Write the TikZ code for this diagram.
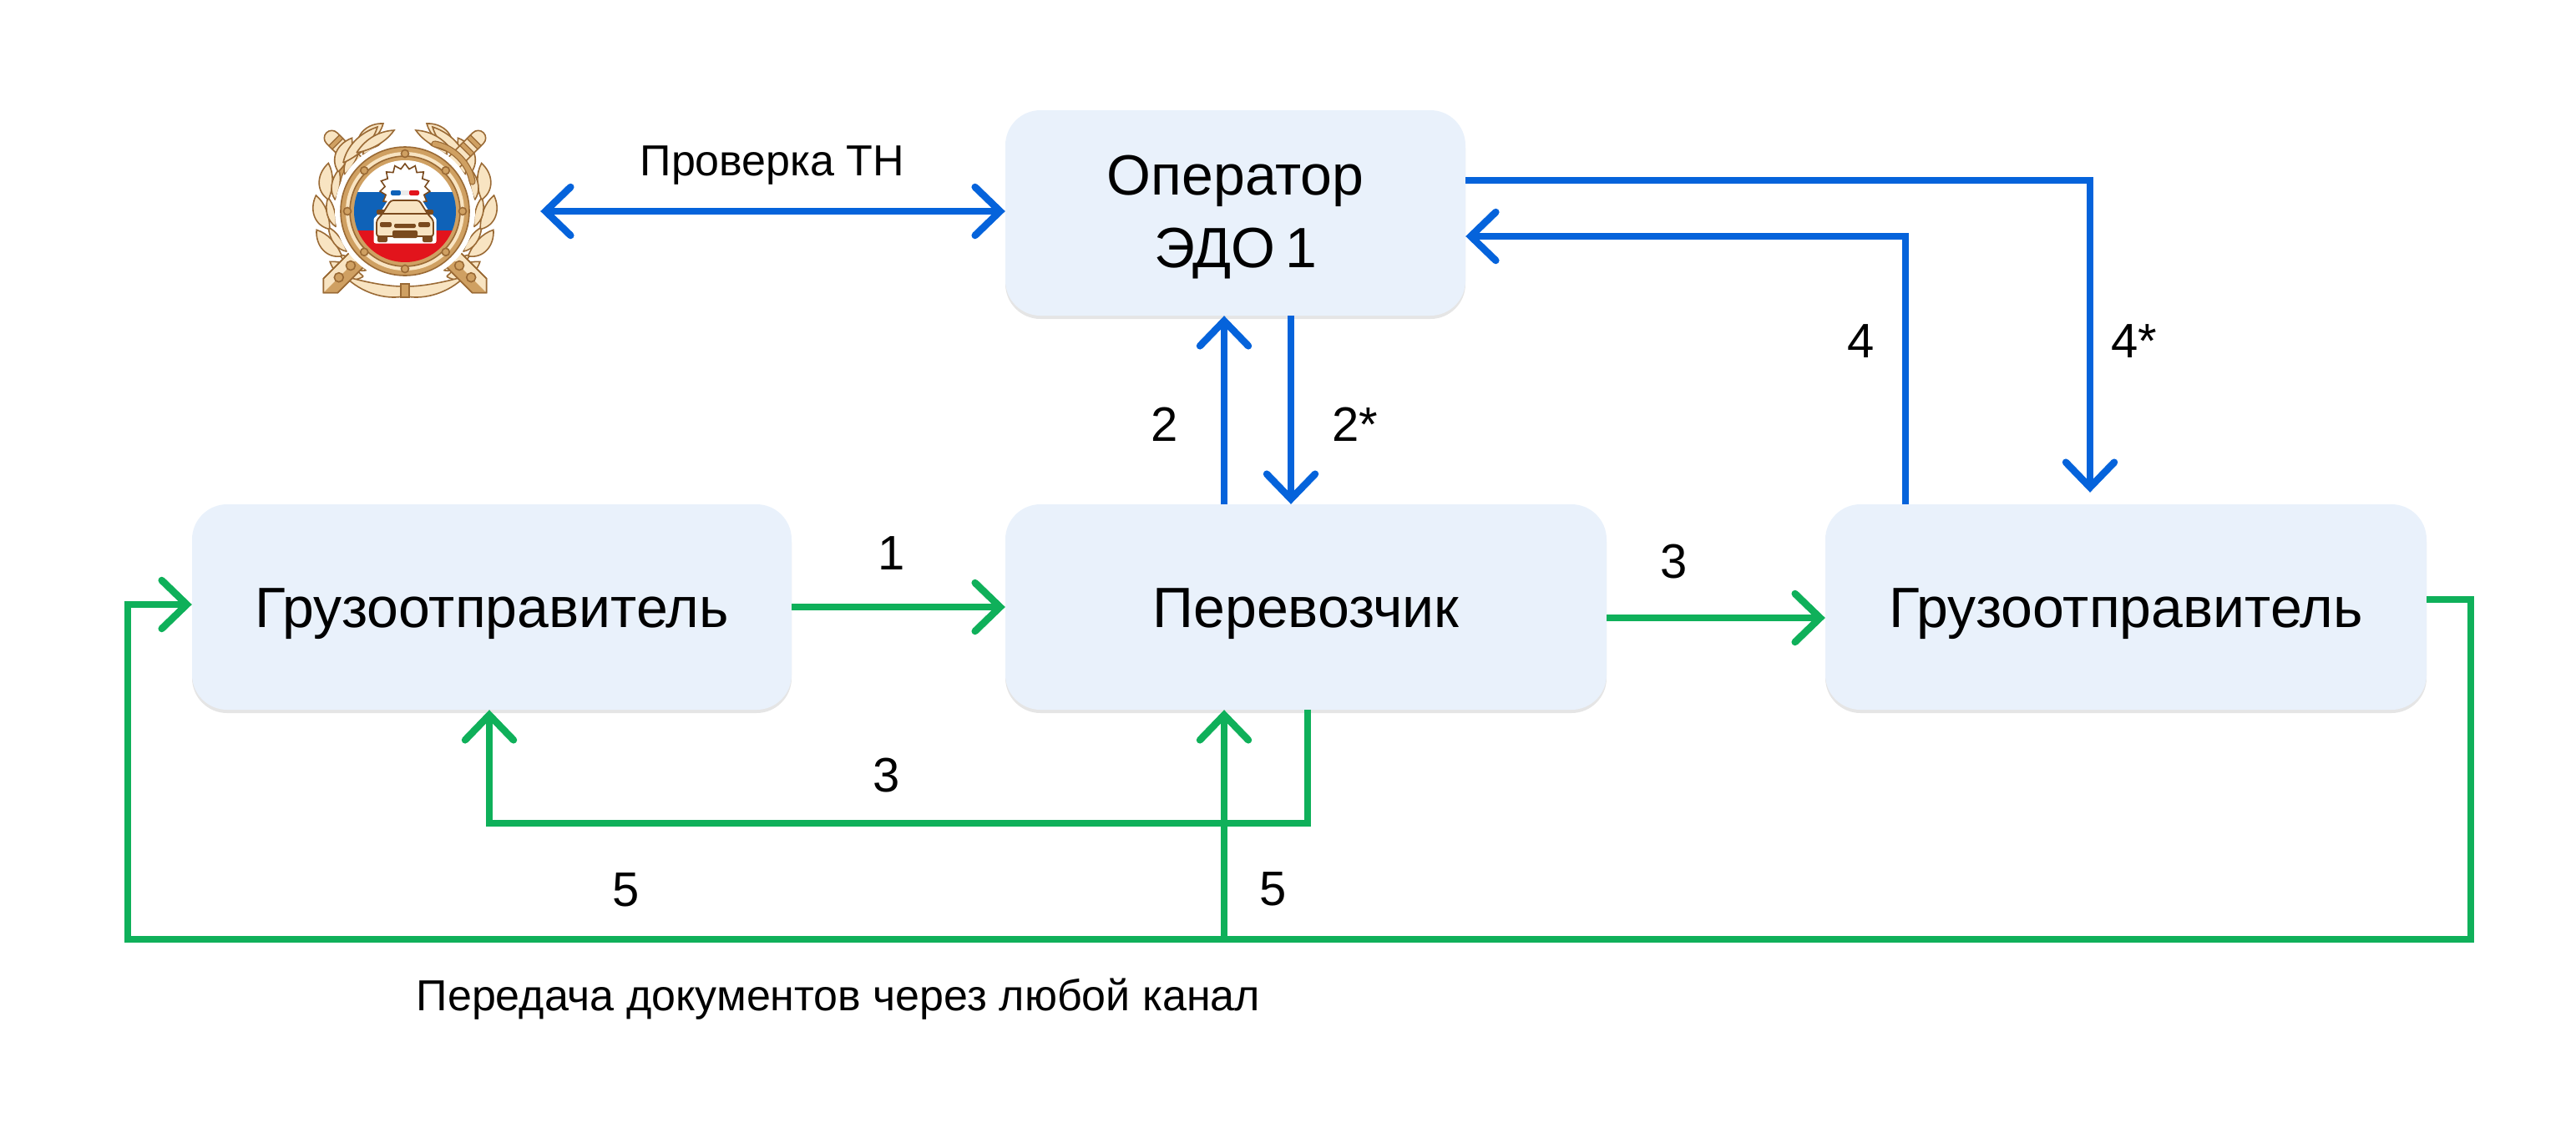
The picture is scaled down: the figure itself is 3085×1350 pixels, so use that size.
\documentclass[tikz,border=0pt]{standalone}
\usepackage{fontspec}
\setmainfont{Liberation Sans}
\usetikzlibrary{arrows.meta,calc,shadows,shapes.geometric}
\definecolor{boxfill}{HTML}{E9F1FB}
\definecolor{edoblue}{HTML}{0563DB}
\definecolor{docgreen}{HTML}{0FB05A}
\definecolor{tan}{HTML}{F8E4C2}
\definecolor{gold}{HTML}{CFA062}
\definecolor{bronze}{HTML}{9A6A35}
\definecolor{carbrown}{HTML}{7A4A1E}
\definecolor{flagblue}{HTML}{0F62B8}
\definecolor{flagred}{HTML}{E2141C}
\tikzset{
	barb/.tip={Straight Barb[length=30pt,width=58pt,line cap=round]},
	partybox/.style={rounded corners=42pt, fill=boxfill, inner sep=0pt, minimum height=246pt, font=\fontsize{68}{87}\selectfont, align=center, general shadow={fill=black, opacity=0.10, shadow yshift=-4pt}},
	oneline/.style={text height=62pt, text depth=14pt},
	numlabel/.style={inner sep=0pt, font=\fontsize{58}{70}\selectfont},
	notelabel/.style={inner sep=0pt, font=\fontsize{52}{62}\selectfont},
	bluearrow/.style={line width=8.5pt, draw=edoblue, -barb},
	greenarrow/.style={line width=8.5pt, draw=docgreen, -barb},
	badgeline/.style={draw=bronze, line width=1.6pt, fill=tan},
	badgegold/.style={draw=bronze, line width=1.6pt, fill=gold},
	carpart/.style={fill=carbrown, rounded corners=2pt},
}
\begin{document}
\begin{tikzpicture}[x=1pt, y=-1pt]
			%%%%% START %%%%%
			\useasboundingbox (0, 0) rectangle (3085, 1350);
			
			% parties
			\node[partybox, minimum width=551pt] (oper) at (1479.5, 255) {\rule{0pt}{58pt}Оператор\\ЭДО\,1};
			\node[partybox, oneline, minimum width=720pt] (perev) at (1564, 727) {Перевозчик};
			\node[partybox, oneline, minimum width=718pt] (shipL) at (589, 727) {Грузоотправитель};
			\node[partybox, oneline, minimum width=720pt] (shipR) at (2546, 727) {Грузоотправитель};
			
			% badge
			\node[minimum size=224pt, inner sep=0pt] (badge) at (485, 253) {};
			\begin{scope}[shift={(485, 253)}]
				% wreath
				\foreach \side in {1, -1} {
					\begin{scope}[xscale=\side]
						\foreach \ang in {-50, -28, -6, 16, 38, 60} {
							\draw[badgeline, rotate=\ang] (92, 12) .. controls (110, 6) and (114, -14) .. (104, -30) .. controls (94, -20) and (90, -4) .. (92, 12);
							\draw[badgeline, rotate=\ang] (84, 10) .. controls (94, 2) and (96, -12) .. (90, -26) .. controls (84, -18) and (82, -4) .. (84, 10);
						}
						\draw[badgeline] (74, -58) .. controls (70, -78) and (54, -94) .. (33, -101) .. controls (38, -84) and (52, -68) .. (74, -58);
						\draw[badgeline] (58, -70) .. controls (48, -86) and (32, -96) .. (13, -97) .. controls (22, -84) and (38, -74) .. (58, -70);
						\draw[badgeline] (2, 102) .. controls (24, 106) and (52, 98) .. (72, 78) .. controls (50, 84) and (24, 90) .. (2, 90) -- cycle;
						% sword
						\begin{scope}[rotate=45]
							\draw[badgeline] (-9, -124) arc (180:360:9) -- (9, -78) -- (-9, -78) -- cycle;
							\draw[draw=bronze, line width=1.2pt, fill=gold] (-9, -120) rectangle (9, -114);
							\draw[draw=bronze, line width=1.2pt, fill=gold] (-9, -108) rectangle (9, -102);
							\draw[bronze, line width=8pt, line cap=round] (-32, -82) .. controls (-14, -95) and (14, -95) .. (32, -82);
							\draw[gold, line width=5.5pt, line cap=round] (-32, -82) .. controls (-14, -95) and (14, -95) .. (32, -82);
							\draw[badgeline] (-12, 72) -- (12, 72) -- (12, 126) -- (0, 138) -- (-12, 126) -- cycle;
							\fill[gold] (-12, 72) -- (0, 72) -- (0, 138) -- (-12, 126) -- cycle;
							\draw[draw=bronze, line width=1.6pt] (-12, 72) -- (12, 72) -- (12, 126) -- (0, 138) -- (-12, 126) -- cycle;
							\draw[badgegold] (0, 92) circle (5.5);
							\draw[badgegold] (0, 112) circle (5.5);
						\end{scope}
					\end{scope}
				}
				\draw[badgegold] (-5, 87) rectangle (5, 103);
				% ring
				\fill[white] (0, 0) circle (84);
				\draw[badgegold] (0, 0) circle (77);
				\fill[tan] (0, 0) circle (71);
				\draw[badgegold] (0, 0) circle (66);
				% flag
				\begin{scope}
					\clip (0, 0) circle (61);
					\fill[white] (-61, -61) rectangle (61, -23);
					\fill[flagblue] (-61, -23) rectangle (61, 23);
					\fill[flagred] (-61, 23) rectangle (61, 61);
				\end{scope}
				\foreach \ang in {0, 45, ..., 315} {
					\draw[badgegold] (\ang:69) circle (4.5);
				}
				% car
				\node[star, star points=15, star point ratio=1.25, minimum size=60pt, inner sep=0pt, draw=carbrown, line width=1.6pt, fill=white] (burst) at (0, -27) {};
				\fill[flagblue, rounded corners=2pt] (-17, -25) rectangle (-5, -19);
				\fill[black!8] (-5, -25) rectangle (5, -19);
				\fill[flagred, rounded corners=2pt] (5, -25) rectangle (17, -19);
				\draw[draw=white, line width=5pt, fill=white, line join=round] (-17, -14) -- (17, -14) -- (27, 2) -- (35, 10) -- (35, 36) -- (-35, 36) -- (-35, 10) -- (-27, 2) -- cycle;
				\fill[carpart] (-33, 27) rectangle (-21, 37);
				\fill[carpart] (21, 27) rectangle (33, 37);
				\fill[carpart] (-34, -2) rectangle (-24, 4);
				\fill[carpart] (24, -2) rectangle (34, 4);
				\draw[draw=carbrown, line width=1.8pt, fill=tan, rounded corners=3pt] (-17, -13) -- (17, -13) -- (27, 3) -- (34, 11) -- (34, 30) -- (-34, 30) -- (-34, 11) -- (-27, 3) -- cycle;
				\draw[draw=carbrown, line width=1.8pt] (-27, 3) -- (27, 3);
				\fill[carpart] (-30, 13) rectangle (-16, 19);
				\fill[carpart] (16, 13) rectangle (30, 19);
				\fill[carpart] (-13, 15) rectangle (13, 20);
				\fill[carpart] (-15, 23) rectangle (15, 32);
			\end{scope}
			
			% blue
			\draw[bluearrow, barb-barb] ([xshift=50pt]badge.east) -- (oper.west |- badge.east);
			\draw[bluearrow, shorten >=14pt] ([yshift=39pt]oper.east) -| ([xshift=-43pt]shipR.north);
			\draw[bluearrow] ([xshift=-264pt]shipR.north) |- ([yshift=-28pt]oper.east);
			\draw[bluearrow] ([xshift=-98pt]perev.north) -- ([xshift=-13.5pt]oper.south);
			\draw[bluearrow] ([xshift=66.5pt]oper.south) -- ([xshift=-18pt]perev.north);
			
			% green
			\coordinate (turnA) at (1000, 986);
			\coordinate (busR) at (2959, 1125);
			\coordinate (busL) at (153, 1125);
			\draw[greenarrow] (shipL.east) -- (perev.west);
			\draw[greenarrow] ([yshift=-13pt]perev.east) -- ([yshift=-13pt]shipR.west);
			\draw[greenarrow] ([xshift=2pt]perev.south) |- (turnA) -| ([xshift=-3pt]shipL.south);
			\draw[greenarrow] ([yshift=9pt]shipR.east) -| (busR) -- (busL) |- ([yshift=3pt]shipL.west);
			\draw[greenarrow] ([xshift=-98pt]perev.south |- busL) -- ([xshift=-98pt]perev.south);
			
			% labels
			\node[notelabel] (checkTN) at (925, 198) {Проверка ТН};
			\node[notelabel] (anyChannel) at (1004, 1197) {Передача документов через любой канал};
			\node[numlabel] (numA) at (1068, 663) {1};
			\node[numlabel] (numB) at (1395, 508) {2};
			\node[numlabel] (numBs) at (1623, 508) {2*};
			\node[numlabel] (numC) at (2005, 673) {3};
			\node[numlabel] (numD) at (1062, 929) {3};
			\node[numlabel] (numE) at (2229, 409) {4};
			\node[numlabel] (numEs) at (2556, 409) {4*};
			\node[numlabel] (numF) at (750, 1066) {5};
			\node[numlabel] (numG) at (1525, 1065) {5};
			
			%%%%% END %%%%%
		\end{tikzpicture}
\end{document}
